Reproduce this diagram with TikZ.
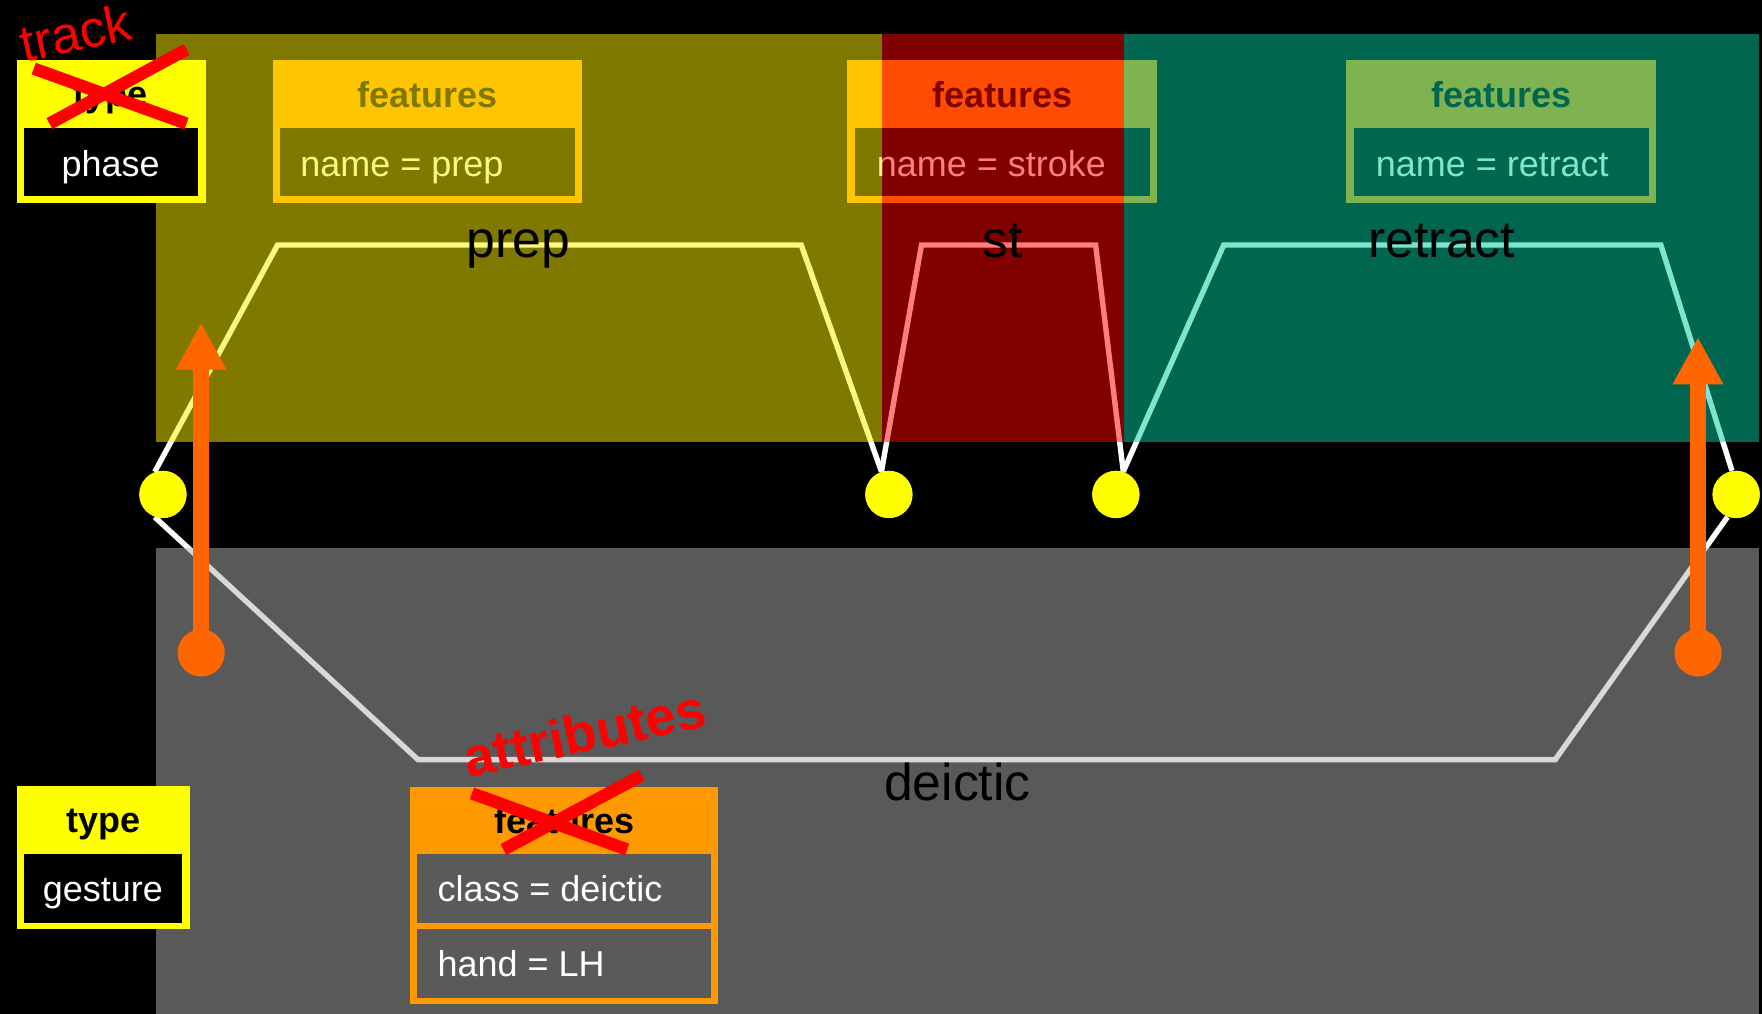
\documentclass[tikz,border=0pt]{standalone}
\usepackage{fontspec}
\setmainfont{Liberation Sans}
\usetikzlibrary{arrows.meta}
\definecolor{boxorange}{HTML}{FF9900}
\definecolor{dotyellow}{HTML}{FFFF00}
\definecolor{arroworange}{HTML}{FF6600}
\definecolor{tealov}{HTML}{00CCA0}
\definecolor{grayov}{HTML}{B3B3B3}
\definecolor{grayin}{HTML}{5A5A5A}
\definecolor{xred}{HTML}{FF0000}
\begin{document}
\begin{tikzpicture}[x=0.5pt,y=-0.5pt,
  box/.style={rectangle, inner sep=0pt, outer sep=0pt, draw=none, fill=#1},
  hdr/.style={anchor=base, inner sep=0pt, text=black, font=\fontsize{16}{19}\selectfont\bfseries},
  val/.style={anchor=base west, inner sep=0pt, text=white, font=\fontsize{16}{19}\selectfont},
  valc/.style={anchor=base, inner sep=0pt, text=white, font=\fontsize{16}{19}\selectfont},
  lbl/.style={anchor=base, inner sep=0pt, text=black, font=\fontsize{23}{27}\selectfont},
  wline/.style={draw=white, line width=2.4pt},
  dotnode/.style={circle, fill=dotyellow, draw=none, minimum size=21pt, inner sep=0pt},
  knob/.style={circle, fill=arroworange, draw=none, minimum size=21pt, inner sep=0pt},
  uparrow/.style={draw=arroworange, line width=7pt, -{Triangle[length=21pt,width=21pt]}},
  redx/.style={draw=xred, line width=5.5pt},
  redtxt/.style={text=xred, inner sep=0pt, font=\fontsize{23}{27}\selectfont}
]
\useasboundingbox (0,0) rectangle (1568,902);
\fill[black] (0,0) rectangle (1568,902);

% top feature boxes (under overlays)
\node[box=boxorange, minimum width=137.5pt, minimum height=64pt] (prepbox) at (380.5,117) {};
\node[box=black, minimum width=131.5pt, minimum height=30pt] (prepin) at (380.5,144) {};
\node[hdr] (prephdr) at (380.5,96) {features};
\node[val] (prepval) at (267,157) {name = prep};

\node[box=boxorange, minimum width=138pt, minimum height=64pt] (strokebox) at (892,117) {};
\node[box=black, minimum width=131pt, minimum height=30pt] (strokein) at (892,144) {};
\node[hdr] (strokehdr) at (892,96) {features};
\node[val] (strokeval) at (780,157) {name = stroke};

\node[box=boxorange, minimum width=138pt, minimum height=64pt] (retrbox) at (1336,117) {};
\node[box=black, minimum width=131pt, minimum height=30pt] (retrin) at (1336,144) {};
\node[hdr] (retrhdr) at (1336,96) {features};
\node[val] (retrval) at (1224,157) {name = retract};

% dots
\node[dotnode] (d1) at (145,440) {};
\node[dotnode] (d2) at (791,440) {};
\node[dotnode] (d3) at (993,440) {};
\node[dotnode] (d4) at (1545,440) {};

% vertices
\coordinate (p1) at (247,218);
\coordinate (p2) at (713,218);
\coordinate (s1) at (820,218);
\coordinate (s2) at (975,218);
\coordinate (r1) at (1089,218);
\coordinate (r2) at (1478,218);
\coordinate (g1) at (372,676);
\coordinate (g2) at (1384,676);

% white lines
\draw[wline] (d1.110) -- (p1) -- (p2) -- (d2.108);
\draw[wline] (d2.108) -- (s1) -- (s2) -- (d3.72);
\draw[wline] (d3.72) -- (r1) -- (r2) -- (d4.100);
\draw[wline] (d1.250) -- (g1) -- (g2) -- (d4.249);

% overlays
\fill[yellow, fill opacity=0.5] (139,30) rectangle (785,393);
\fill[red, fill opacity=0.5] (785,30) rectangle (1000,393);
\fill[tealov, fill opacity=0.5] (1000,30) rectangle (1565,393);
\fill[grayov, fill opacity=0.5] (139,488) rectangle (1565,902);

% redraw dots on top
\node[dotnode] at (d1) {};
\node[dotnode] at (d2) {};
\node[dotnode] at (d3) {};
\node[dotnode] at (d4) {};

% phase labels
\node[lbl] (lprep) at (461,229) {prep};
\node[lbl] (lst) at (892,229) {st};
\node[lbl] (lretr) at (1283,229) {retract};
\node[lbl] (ldeic) at (852,712) {deictic};

% type / phase box
\node[box=dotyellow, minimum width=84pt, minimum height=64pt] (typea) at (99,117) {};
\node[box=black, minimum width=77.5pt, minimum height=30pt] (typeain) at (98.5,144) {};
\node[hdr] (typeahdr) at (98,95) {type};
\node[valc] (typeaval) at (98.5,157) {phase};
\draw[redx] (30,61) -- (166,110);
\draw[redx] (44,110) -- (166,44);
\node[redtxt, rotate=12] (track) at (67,29) {track};

% type / gesture box
\node[box=dotyellow, minimum width=77pt, minimum height=64pt] (typeb) at (92,763) {};
\node[box=black, minimum width=70.5pt, minimum height=30.5pt] (typebin) at (91.5,790.5) {};
\node[hdr] (typebhdr) at (92,741) {type};
\node[valc] (typebval) at (91.5,802) {gesture};

% attributes box
\node[box=boxorange, minimum width=137pt, minimum height=96.5pt] (attr) at (502,796.5) {};
\node[box=grayin, minimum width=131pt, minimum height=30.5pt] (attrin1) at (502,790.5) {};
\node[box=grayin, minimum width=131pt, minimum height=30.5pt] (attrin2) at (502,857.5) {};
\node[hdr] (attrhdr) at (502,742) {features};
\node[val] (attrv1) at (389,802) {class = deictic};
\node[val] (attrv2) at (389,869) {hand = LH};
\draw[redx] (420,706) -- (558,756);
\draw[redx] (448,756) -- (571,690);
\node[redtxt, rotate=12, font=\fontsize{24}{28}\selectfont\bfseries] (attrib) at (520,652) {attributes};

% orange arrows
\node[knob] (k1) at (179,581) {};
\coordinate (t1) at (179,287);
\draw[uparrow] (k1.center) -- (t1);
\node[knob] (k2) at (1511,581) {};
\coordinate (t2) at (1511,300);
\draw[uparrow] (k2.center) -- (t2);
\end{tikzpicture}
\end{document}
